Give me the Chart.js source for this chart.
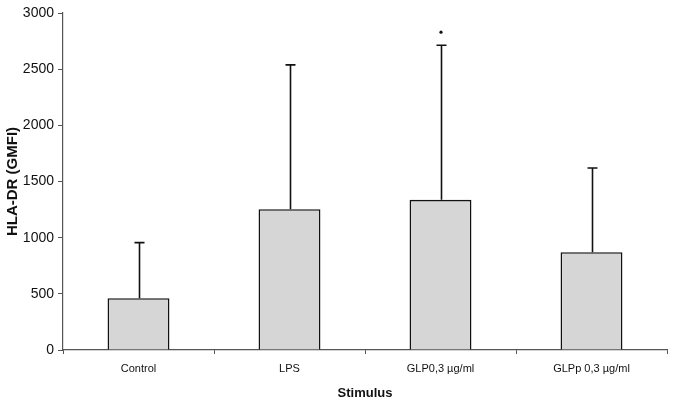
<!DOCTYPE html>
<html>
<head>
<meta charset="utf-8">
<script src="https://cdn.jsdelivr.net/npm/chart.js@4.4.0/dist/chart.umd.min.js"></script>
<style>
  html, body { margin: 0; padding: 0; background: #ffffff; }
  #wrap { width: 674px; height: 403px; position: relative; }
</style>
</head>
<body>
<div id="wrap"><canvas id="c" width="674" height="403"></canvas></div>
<script>
// ---- data ----
const categories = ['Control', 'LPS', 'GLP0,3 µg/ml', 'GLPp 0,3 µg/ml'];
const meanValues = [461, 1254, 1337, 871];
const errorUpper = [956, 2538, 2713, 1620];
const significanceMarks = [null, null, 2829, null];
const yTicks = [0, 500, 1000, 1500, 2000, 2500, 3000];

const FONT = '"Liberation Sans", Arial, sans-serif';

const errorBarPlugin = {
  id: 'errorBars',
  afterDatasetsDraw(chart) {
    const meta = chart.getDatasetMeta(0);
    const y = chart.scales.y;
    const ctx = chart.ctx;
    ctx.save();
    ctx.strokeStyle = '#111';
    ctx.fillStyle = '#111';
    ctx.lineWidth = 1.6;
    meta.data.forEach((el, i) => {
      const x = Math.round(el.x) + 0.5;
      const yTop = y.getPixelForValue(errorUpper[i]);
      ctx.beginPath();
      ctx.moveTo(x, el.y);
      ctx.lineTo(x, yTop);
      ctx.moveTo(x - 5, yTop);
      ctx.lineTo(x + 5, yTop);
      ctx.stroke();
      if (significanceMarks[i] != null) {
        const ys = y.getPixelForValue(significanceMarks[i]);
        ctx.beginPath();
        ctx.arc(x - 0.5, ys, 1.6, 0, Math.PI * 2);
        ctx.fill();
      }
    });
    ctx.restore();
  }
};

new Chart(document.getElementById('c'), {
  type: 'bar',
  data: {
    labels: categories,
    datasets: [{
      data: meanValues,
      backgroundColor: '#d6d6d6',
      borderColor: '#111',
      borderWidth: 1.6,
      barPercentage: 0.41,
      categoryPercentage: 1.0
    }]
  },
  options: {
    responsive: false,
    animation: false,
    devicePixelRatio: 1,
    layout: { padding: { left: 0, right: 7, top: 13, bottom: 0 } },
    plugins: { legend: { display: false }, tooltip: { enabled: false } },
    scales: {
      x: {
        offset: true,
        grid: { display: true, drawOnChartArea: false, offset: true, tickLength: 4, color: '#555', lineWidth: 1 },
        border: { display: true, color: '#555', width: 1.2 },
        ticks: { color: '#111', font: { family: FONT, size: 11 }, padding: 8, maxRotation: 0, autoSkip: false },
        title: { display: true, text: 'Stimulus', color: '#111', font: { family: FONT, size: 13, weight: 'bold' }, padding: { top: 4, bottom: 2 } },
        afterFit(s) { s.height = 53; }
      },
      y: {
        min: 0, max: 3000,
        afterBuildTicks(s) { s.ticks = yTicks.map(v => ({ value: v })); },
        grid: { display: true, drawOnChartArea: false, tickLength: 5, color: '#555', lineWidth: 1 },
        border: { display: true, color: '#555', width: 1.2 },
        ticks: { color: '#111', font: { family: FONT, size: 14 }, padding: 4, callback: (v) => String(v) },
        title: { display: true, text: 'HLA-DR (GMFI)', color: '#111', font: { family: FONT, size: 15, weight: 'bold' }, padding: { top: 4, bottom: 0 } },
        afterFit(s) { s.width = 63; }
      }
    }
  },
  plugins: [errorBarPlugin]
});
</script>
</body>
</html>
